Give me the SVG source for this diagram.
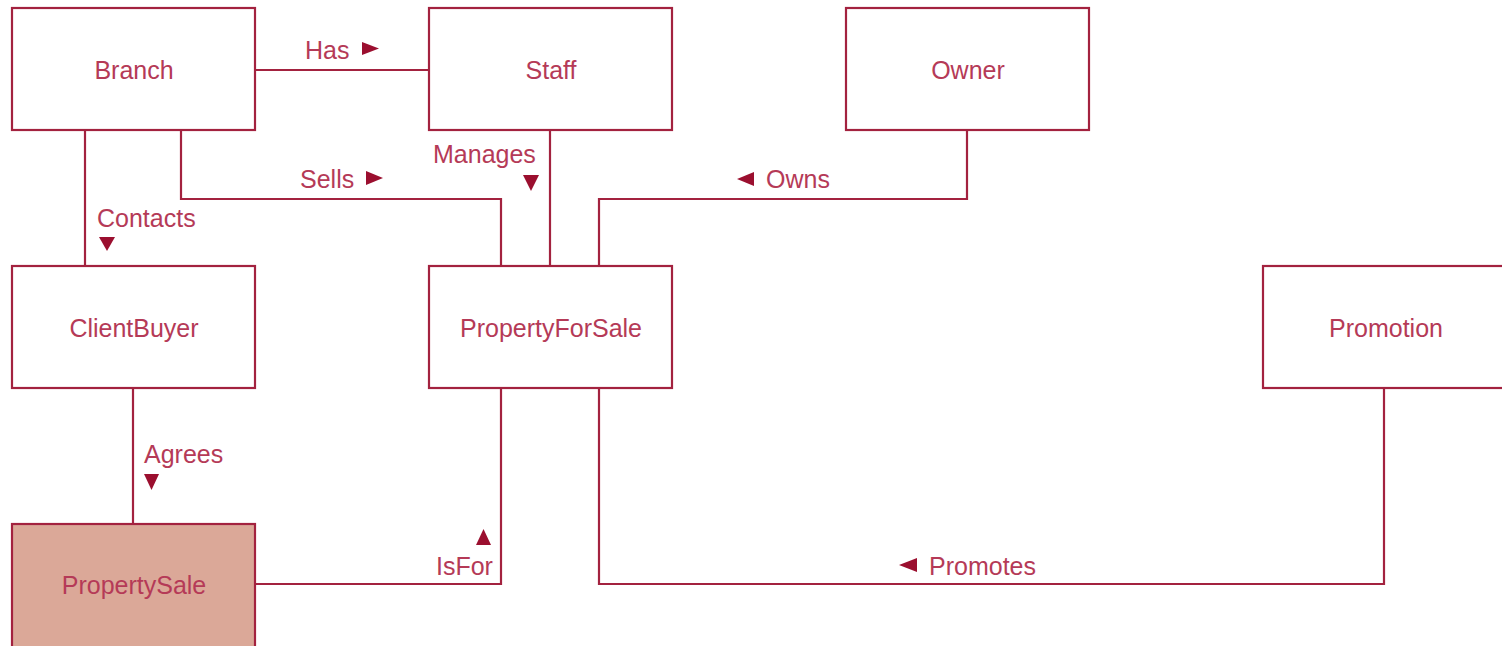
<svg xmlns="http://www.w3.org/2000/svg" width="1502" height="646" viewBox="0 0 1502 646">
<style>
.box{fill:#ffffff;stroke:#a3223f;stroke-width:2.2}
.hl{fill:#dba898}
.name{font-family:"Liberation Sans",Arial,sans-serif;font-size:25px;fill:#b53a57;text-anchor:middle}
.lbl{font-family:"Liberation Sans",Arial,sans-serif;font-size:25px;fill:#b53a57}
.con{fill:none;stroke:#a3223f;stroke-width:2.2}
.tri{fill:#9b0f2f}
</style>
<rect width="1502" height="646" fill="#ffffff"/>
<g id="connectors">
<path class="con" d="M255,70 H429"/>
<path class="con" d="M85,130 V266"/>
<path class="con" d="M181,130 V199 H501 V266"/>
<path class="con" d="M550,130 V266"/>
<path class="con" d="M967,130 V199 H599 V266"/>
<path class="con" d="M133,388 V524"/>
<path class="con" d="M255,584 H501 V388"/>
<path class="con" d="M1384,388 V584 H599 V388"/>
<g id="labels">
<text class="lbl" x="305" y="59">Has</text>
<polygon class="tri" points="362,42 379,48.5 362,55"/>
<text class="lbl" x="300" y="188">Sells</text>
<polygon class="tri" points="366,171 383,178 366,185"/>
<text class="lbl" x="97" y="227">Contacts</text>
<polygon class="tri" points="99,237 115,237 107,251"/>
<text class="lbl" x="433" y="163">Manages</text>
<polygon class="tri" points="523,175 539,175 531,191"/>
<polygon class="tri" points="754,172 737,179 754,186"/>
<text class="lbl" x="766" y="188">Owns</text>
<text class="lbl" x="144" y="463">Agrees</text>
<polygon class="tri" points="144,474 159,474 151.5,490"/>
<polygon class="tri" points="476,545 491,545 483.5,529"/>
<text class="lbl" x="436" y="575">IsFor</text>
<polygon class="tri" points="917,558 899,565 917,572"/>
<text class="lbl" x="929" y="575">Promotes</text>
</g>
</g>
<g id="Branch"><rect class="box" x="12" y="8" width="243" height="122"/><text class="name" x="134" y="79">Branch</text></g>
<g id="Staff"><rect class="box" x="429" y="8" width="243" height="122"/><text class="name" x="551" y="79">Staff</text></g>
<g id="Owner"><rect class="box" x="846" y="8" width="243" height="122"/><text class="name" x="968" y="79">Owner</text></g>
<g id="ClientBuyer"><rect class="box" x="12" y="266" width="243" height="122"/><text class="name" x="134" y="337">ClientBuyer</text></g>
<g id="PropertyForSale"><rect class="box" x="429" y="266" width="243" height="122"/><text class="name" x="551" y="337">PropertyForSale</text></g>
<g id="Promotion"><rect class="box" x="1263" y="266" width="243" height="122"/><text class="name" x="1386" y="337">Promotion</text></g>
<g id="PropertySale"><rect class="box hl" x="12" y="524" width="243" height="130"/><text class="name" x="134" y="594">PropertySale</text></g>
</svg>
